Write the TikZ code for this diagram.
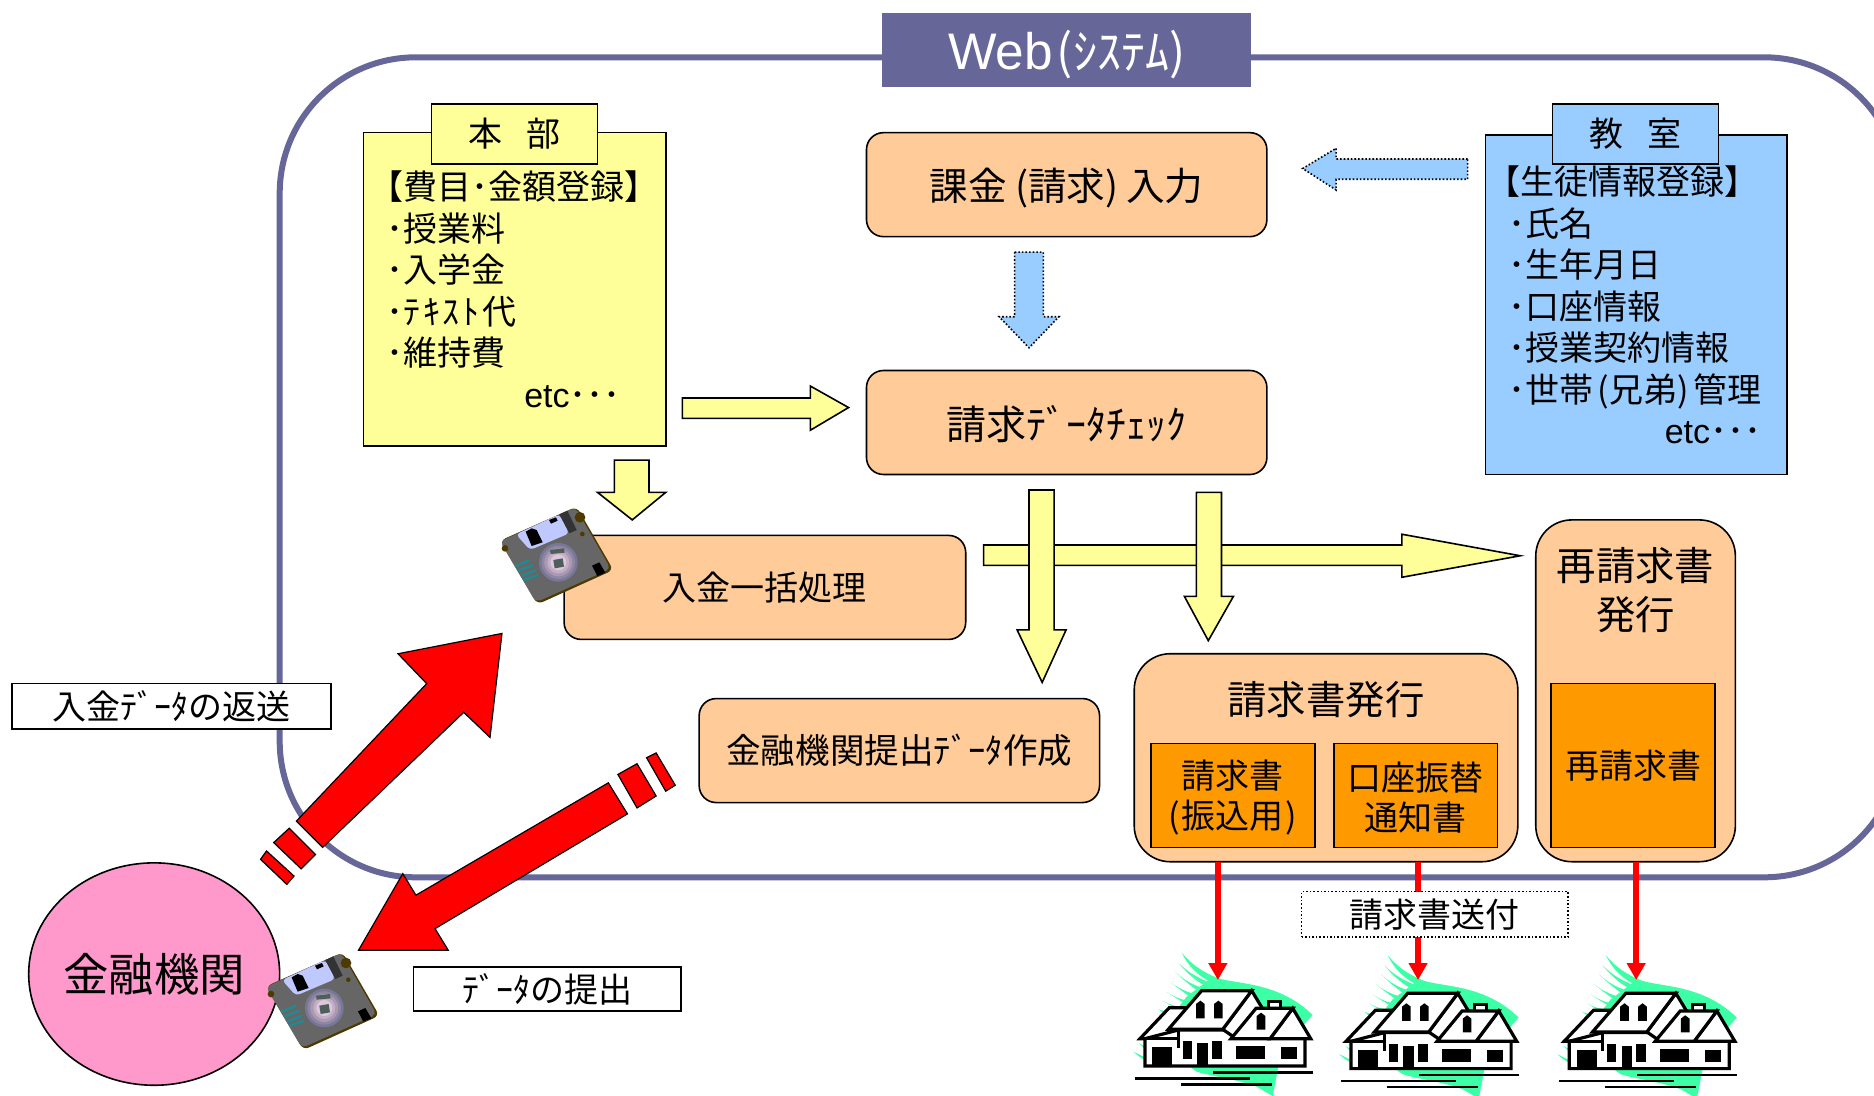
\documentclass[tikz,border=0pt]{standalone}
\usepackage{fontspec}
\usetikzlibrary{arrows.meta,shapes.geometric}
\setmainfont{Noto Sans CJK JP}
\newfontfamily\latinf{Liberation Sans}
\definecolor{framec}{HTML}{666699}
\definecolor{boxc}{HTML}{FFCC99}
\definecolor{innerc}{HTML}{FF9900}
\definecolor{yellowc}{HTML}{FFFF99}
\definecolor{bluec}{HTML}{99CCFF}
\definecolor{pinkc}{HTML}{FF99CC}
\definecolor{greenc}{HTML}{3DFFA5}
\definecolor{brownc}{HTML}{4D3A00}
\definecolor{labelc}{HTML}{BFC8FF}
\definecolor{tealc}{HTML}{1F8A94}
\definecolor{greyc}{HTML}{4D5F58}
\definecolor{da}{HTML}{777799}
\definecolor{db}{HTML}{8F86A2}
\definecolor{dc}{HTML}{A999B2}
\definecolor{dd}{HTML}{C3AEC6}
\definecolor{de}{HTML}{DCC8DC}
\newcommand{\fs}[2]{\fontsize{#1}{#2}\selectfont}
\newcommand{\dn}[2][1.2pt]{\raisebox{-#1}[\height][\depth]{#2}}
\tikzset{
  x=0.5976pt,y=-0.5976pt,
  every node/.style={inner sep=0pt,outer sep=0pt,text=black},
  obox/.style={draw=black,line width=0.8pt,fill=boxc,rounded corners=8.5pt,align=center},
  bigbox/.style={draw=black,line width=0.8pt,fill=boxc,rounded corners=18pt},
  innerbox/.style={draw=black,line width=0.8pt,fill=innerc,minimum width=81.9pt,minimum height=52pt,align=center,font=\fs{17}{20}},
  ypanel/.style={draw=black,line width=0.8pt,fill=yellowc},
  bpanel/.style={draw=black,line width=0.8pt,fill=bluec},
  paneltext/.style={align=left,anchor=north west,font=\fs{17}{20.75}},
  labelbox/.style={draw=black,line width=0.8pt,fill=white,font=\fs{17}{20}},
  yarrow/.style={draw=black,line width=0.8pt,fill=yellowc,line join=miter},
  barrow/.style={draw=black,line width=0.8pt,fill=bluec,densely dotted},
  rarrow/.style={draw=black,line width=0.6pt,fill=red},
  redline/.style={draw=red,line width=3pt,-{Triangle[width=9pt,length=8.5pt,fill=red]}},
  pics/floppy/.style={code={
    \fill[brownc,rounded corners=3pt] (60,182) -- (290,80) -- (400,270) -- (172,373) -- cycle;
    \fill[black!60,rounded corners=2.5pt] (60,184) -- (286,82) -- (392,266) -- (168,367) -- cycle;
    \fill[brownc] (300,112) circle (16);
    \fill[brownc] (75,205) circle (10);
    \fill[brownc] (307,162) circle (7);
    \fill[labelc,rounded corners=2pt] (108,163) -- (238,103) -- (268,160) -- (150,210) -- cycle;
    \fill[black!80] (238,103) -- (262,92) -- (290,150) -- (268,160) -- cycle;
    \fill[black] (137,155) -- (155,145) -- (170,150) -- (188,187) -- (155,198) -- cycle;
    \fill[black] (207,120) -- (228,112) -- (233,122) -- (213,131) -- cycle;
    \fill[da] (235,247) circle (58);
    \fill[db] (235,247) circle (50);
    \fill[dc] (235,247) circle (42);
    \fill[dd] (235,247) circle (33);
    \fill[de] (235,247) circle (24);
    \fill[greyc] (210,210) -- (252,205) -- (254,218) -- (212,222) -- cycle;
    \fill[greyc] (220,240) -- (248,235) -- (252,260) -- (224,265) -- cycle;
    \fill[black] (336,257) -- (358,247) -- (376,278) -- (352,288) -- cycle;
    \draw[tealc,line width=1.15pt] (106,258) -- (150,240) (114,273) -- (160,255) (124,288) -- (168,270) (132,300) -- (175,285);
  }},
  pics/house/.style={code={
    \fill[greenc] (280,140) .. controls (340,165) and (470,150) .. (578,255) -- (555,280) -- (475,410) -- (458,498) -- (410,470) .. controls (340,445) and (280,440) .. (230,425) -- (100,330) -- (200,200) -- cycle;
    \fill[greenc] (185,68) .. controls (220,110) and (260,135) .. (330,158) -- (300,168) .. controls (250,150) and (210,120) .. (185,68) -- cycle;
    \fill[greenc] (175,98) .. controls (205,130) and (245,150) .. (300,170) -- (270,175) .. controls (235,160) and (200,130) .. (175,98) -- cycle;
    \fill[greenc] (165,125) .. controls (190,150) and (225,170) .. (270,180) -- (245,190) .. controls (220,175) and (190,150) .. (165,125) -- cycle;
    \fill[greenc] (150,155) .. controls (175,175) and (205,190) .. (240,195) -- (225,210) .. controls (200,195) and (175,175) .. (150,155) -- cycle;
    \fill[greenc] (140,185) .. controls (160,200) and (185,210) .. (215,215) -- (205,225) .. controls (185,215) and (160,200) .. (140,185) -- cycle;
    \fill[greenc] (130,213) .. controls (150,225) and (170,230) .. (195,232) -- (180,245) .. controls (165,235) and (150,225) .. (130,213) -- cycle;
    \fill[greenc] (115,238) .. controls (125,242) and (135,245) .. (150,245) -- (135,255) .. controls (130,250) and (125,245) .. (115,238) -- cycle;
    \fill[greenc] (40,365) .. controls (60,375) and (80,385) .. (120,400) -- (120,412) .. controls (85,395) and (60,385) .. (40,365) -- cycle;
    \fill[greenc] (58,340) .. controls (70,348) and (80,352) .. (95,355) -- (85,365) .. controls (75,355) and (65,350) .. (58,340) -- cycle;
    \begin{scope}[draw=black,line width=1.6pt,line join=miter,fill=white]
      \filldraw (60,326) -- (148,233) -- (230,233) -- (175,326) -- cycle;
      \filldraw (75,326) -- (75,408) -- (555,408) -- (555,326) -- (450,300) -- (175,300) -- cycle;
      \filldraw (395,182) -- (430,240) -- (340,320) -- (308,298) -- cycle;
      \filldraw (445,240) -- (445,215) -- (482,215) -- (482,240) -- cycle;
      \filldraw (518,235) -- (572,326) -- (450,326) -- cycle;
      \filldraw (333,326) -- (408,235) -- (518,235) -- (450,326) -- cycle;
      \filldraw (145,298) -- (245,182) -- (395,182) -- (308,298) -- cycle;
      \draw (60,326) -- (175,326);
      \draw (175,300) -- (175,355);
    \end{scope}
    \fill[black] (97,352) rectangle (157,408);
    \fill[black] (189,333) rectangle (216,387);
    \fill[black] (232,340) rectangle (263,408);
    \fill[black] (276,333) rectangle (306,387);
    \fill[black] (348,348) rectangle (435,387);
    \fill[black] (483,351) rectangle (531,387);
    \fill[black] (228,265) -- (228,222) -- (241,212) -- (254,222) -- (254,265) -- cycle;
    \fill[black] (282,265) -- (282,222) -- (295,212) -- (308,222) -- (308,265) -- cycle;
    \fill[black] (410,299) -- (410,258) -- (423,248) -- (436,258) -- (436,299) -- cycle;
    \draw[black,line width=1.33pt] (279,427) -- (579,427) (45,445) -- (390,445) (183,463) -- (456,463);
  }},
}
\begin{document}
\begin{tikzpicture}
\useasboundingbox (0,0) rectangle (1568,917);
\clip (0,0) rectangle (1568,917);
% system frame
\node[draw=framec,line width=3pt,rounded corners=68pt,minimum width=810.3pt,minimum height=410pt] (frame) at (912,391) {};
\node[fill=framec,minimum width=184.7pt,minimum height=37pt] (web) at (892.5,42) {\textcolor{white}{\dn[2pt]{{\latinf\fs{25.7}{30}Web}\hspace{2pt}\fs{24}{28}(ｼｽﾃﾑ)}}};
% yellow panel
\node[ypanel,minimum width=151.2pt,minimum height=156.6pt] (hq) at (430.5,242) {};
\node[ypanel,minimum width=83.1pt,minimum height=29.9pt,font=\fs{17}{20}] (hqh) at (430.5,112) {本\hspace{12pt}部};
\node[paneltext] (hqt) at (309,143) {【費目･金額登録】\\\hspace*{8.5pt}･授業料\\\hspace*{8.5pt}･入学金\\\hspace*{8.5pt}･ﾃ\hspace{1.4pt}ｷ\hspace{1.4pt}ｽ\hspace{1.4pt}ﾄ\hspace{1.4pt}代\\\hspace*{8.5pt}･維持費\\\hspace*{77.5pt}{\latinf\fs{17}{20.75}etc}･･･};
% blue panel
\node[bpanel,minimum width=150.6pt,minimum height=169.7pt] (cl) at (1369,255) {};
\node[bpanel,minimum width=83.1pt,minimum height=29.9pt,font=\fs{17}{20}] (clh) at (1368.5,112) {教\hspace{12pt}室};
\node[paneltext] (clt) at (1244,139) {【生徒情報登録】\\\hspace*{10.9pt}･氏名\\\hspace*{10.9pt}･生年月日\\\hspace*{10.9pt}･口座情報\\\hspace*{10.9pt}･授業契約情報\\\hspace*{10.9pt}･世帯\hspace{2.2pt}(兄弟)\hspace{2.2pt}管理\\\hspace*{89pt}{\latinf\fs{17}{20.75}etc}･･･};
% orange boxes
\node[obox,minimum width=200.2pt,minimum height=52pt,font=\fs{19.3}{22}] (input) at (892.5,154.5) {\dn[1.5pt]{課金\hspace{4pt}(請求)\hspace{4pt}入力}};
\node[obox,minimum width=200.2pt,minimum height=52pt,font=\fs{20}{23}] (check) at (892.5,353.5) {\dn[0.8pt]{請求ﾃﾞｰﾀﾁｪｯｸ}};
\node[obox,minimum width=200.8pt,minimum height=52pt,font=\fs{17}{20}] (pay) at (640,491.5) {入金一括処理};
\node[obox,minimum width=200.2pt,minimum height=52pt,font=\fs{17.3}{20}] (bank) at (752.5,628) {金融機関提出ﾃﾞｰﾀ作成};
\node[bigbox,minimum width=191.8pt,minimum height=104pt] (inv) at (1109.5,634) {};
\node[font=\fs{19.7}{23}] (invt) at (1109.5,585) {請求書発行};
\node[innerbox] (inv1) at (1031.5,665.5) {\dn{請求書}\\\dn{(\hspace{0.8pt}振込用\hspace{0.8pt})}};
\node[innerbox] (inv2) at (1184.5,665.5) {\dn{口座振替}\\\dn{通知書}};
\node[bigbox,minimum width=99.8pt,minimum height=170.9pt] (re) at (1368.5,578) {};
\node[font=\fs{19.7}{24.5},align=center] (ret) at (1368.5,494) {再請求書\\発行};
\node[innerbox,minimum height=81.9pt] (re1) at (1366.5,640.5) {再請求書};
% yellow block arrows
\draw[yarrow] (571,333) -- (678,333) -- (678,323) -- (710,341) -- (678,360) -- (678,350) -- (571,350) -- cycle;
\draw[yarrow] (514,385) -- (543,385) -- (543,412) -- (557,412) -- (529,435) -- (500,412) -- (514,412) -- cycle;
\draw[yarrow] (823,456) -- (1173,456) -- (1173,447) -- (1272,465) -- (1173,483) -- (1173,473) -- (823,473) -- cycle;
\draw[yarrow] (861,410) -- (882,410) -- (882,527) -- (892,527) -- (872,571) -- (851,527) -- (861,527) -- cycle;
\draw[yarrow] (1001,412) -- (1022,412) -- (1022,499) -- (1032,499) -- (1011,536) -- (991,499) -- (1001,499) -- cycle;
% blue dotted arrows
\draw[barrow] (1228,133) -- (1118,133) -- (1118,124) -- (1090,141) -- (1118,159) -- (1118,150) -- (1228,150) -- cycle;
\draw[barrow] (849,211) -- (873,211) -- (873,265) -- (886,265) -- (861,291) -- (836,265) -- (849,265) -- cycle;
% bank
\node[draw=black,line width=0.8pt,fill=pinkc,ellipse,minimum width=125.5pt,minimum height=111.2pt] (fin) at (129,815) {};
\node[font=\fs{22.7}{26}] (fint) at (129,815) {金融機関};
% red big arrows
\draw[rarrow] (420,530) -- (333,547) -- (357,572) -- (248,687) -- (270,709) -- (388,596) -- (410,617) -- cycle;
\draw[rarrow] (242,693) -- (264,715) -- (252,727) -- (229,705) -- cycle;
\draw[rarrow] (223,712) -- (246,733) -- (240,740) -- (218,719) -- cycle;
\draw[rarrow] (300,795) -- (375,795) -- (364,777) -- (525,681) -- (509,655) -- (348,749) -- (337,731) -- cycle;
\draw[rarrow] (533,639) -- (549,666) -- (533,676) -- (517,648) -- cycle;
\draw[rarrow] (549,630) -- (565,657) -- (557,662) -- (541,634) -- cycle;
% floppy disks
\pic[scale=0.279] at (401.6,401.6) {floppy};
\pic[scale=0.279] at (205.8,774.5) {floppy};
% labels
\node[labelbox,minimum width=159.6pt,minimum height=22.7pt] (ret1) at (143.5,591) {入金ﾃﾞｰﾀの返送};
\node[labelbox,minimum width=133.9pt,minimum height=22.1pt] (sub) at (458,827.5) {ﾃﾞｰﾀの提出};
% houses
\pic[scale=0.279] at (937.1,778.1) {house};
\pic[scale=0.279] at (1109.5,780.3) {house};
\pic[scale=0.279] at (1292,780.3) {house};
% red connectors
\coordinate (s1) at (1019,721);
\coordinate (h1) at (1019,820);
\coordinate (s2) at (1186.5,721);
\coordinate (h2) at (1186.5,820);
\coordinate (s3) at (1369,721);
\coordinate (h3) at (1369,820);
\draw[redline] (s1) -- (h1);
\draw[redline] (s2) -- (h2);
\draw[redline] (s3) -- (h3);
\node[draw=black,line width=0.8pt,densely dotted,fill=white,minimum width=133.3pt,minimum height=22.7pt,font=\fs{17}{20}] (send) at (1200.5,765) {請求書送付};
\end{tikzpicture}
\end{document}
